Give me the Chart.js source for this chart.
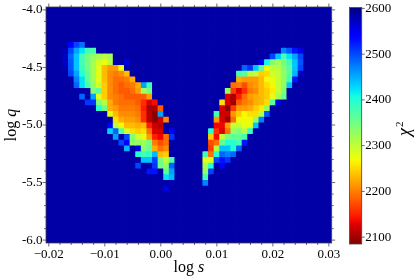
<!DOCTYPE html>
<html>
<head>
<meta charset="utf-8">
<style>
body { margin: 0; background: #fff; }
canvas { position: absolute; top: 0; }
</style>
<script src="https://cdn.jsdelivr.net/npm/chart.js@4"></script>
</head>
<body>
<canvas id="mapChart" width="415" height="280" style="left:0"></canvas>
<canvas id="barChart" width="75" height="280" style="left:340px"></canvas>
<script>
const logS = [-0.020, -0.019, -0.018, -0.017, -0.016, -0.015, -0.014, -0.013, -0.012, -0.011,
    -0.010, -0.009, -0.008, -0.007, -0.006, -0.005, -0.004, -0.003, -0.002, -0.001,
    0.000, 0.001, 0.002, 0.003, 0.004, 0.005, 0.006, 0.007, 0.008, 0.009,
    0.010, 0.011, 0.012, 0.013, 0.014, 0.015, 0.016, 0.017, 0.018, 0.019,
    0.020, 0.021, 0.022, 0.023, 0.024, 0.025, 0.026, 0.027, 0.028, 0.029, 0.030];
const logQ = [-4.00, -4.05, -4.10, -4.15, -4.20, -4.25, -4.30, -4.35, -4.40, -4.45,
    -4.50, -4.55, -4.60, -4.65, -4.70, -4.75, -4.80, -4.85, -4.90, -4.95,
    -5.00, -5.05, -5.10, -5.15, -5.20, -5.25, -5.30, -5.35, -5.40, -5.45,
    -5.50, -5.55, -5.60, -5.65, -5.70, -5.75, -5.80, -5.85, -5.90, -5.95, -6.00];
const xTicks = [-0.02, -0.01, 0, 0.01, 0.02, 0.03];
const yTicks = [-4, -4.5, -5, -5.5, -6];
const barTicks = [2100, 2200, 2300, 2400, 2500, 2600];

// chi2 outside the two wings, and holes inside them
const B = 2585;
const chiMin = 2085;
const chiMax = 2602;

// left wing, rows of logQ from index 6 on, each row starts at column leftStart
const leftStart = [4, 3, 3, 3, 3, 4, 5, 5, 8, 6, 7, 9, 11, 12, 11, 11, 12, 13, 14, 16, 17, 16, 18, 21, 22, 21];
const leftChi2 = [
    [2545, 2503, 2480],
    [2578, 2503, 2454, 2422, 2378, 2375],
    [2570, 2486, 2438, 2378, 2349, 2329, 2318, 2308, 2318],
    [2570, 2495, 2438, 2378, 2349, 2318, 2290, 2269, 2308, B, B, 2559],
    [2578, 2495, 2438, 2385, 2349, 2318, 2279, 2234, 2217, 2217, 2279],
    [2503, 2454, 2398, 2359, 2318, 2279, 2234, 2208, 2199, 2208, 2234],
    [2471, 2422, 2359, 2318, 2279, 2234, 2208, 2192, 2192, 2199, 2226],
    [2486, 2422, 2378, 2329, 2290, 2243, 2208, 2192, 2181, 2192, 2199, 2226, 2454, 2378],
    [2339, 2359, 2243, 2208, 2192, 2181, 2181, 2192, 2217, 2318, 2349],
    [2486, B, 2454, 2279, 2243, 2208, 2199, 2192, 2181, 2181, 2181, 2181, 2217],
    [2511, 2511, 2339, 2308, 2226, 2199, 2192, 2192, 2192, 2181, 2156, 2126, 2138],
    [2398, 2349, 2226, 2217, 2199, 2199, 2199, 2192, 2147, 2105, 2105, 2181],
    [2279, 2234, 2208, 2208, 2208, 2199, 2156, 2111, 2090, 2454],
    [2253, 2226, 2217, 2217, 2208, 2156, 2111, 2090, 2119, 2208],
    [2540, 2308, 2269, 2234, 2234, 2226, 2234, 2147, 2119, 2111],
    [2430, 2486, 2367, 2290, 2253, 2243, 2253, 2192, 2126, 2119, B, 2540],
    [2454, B, 2503, 2339, 2290, 2279, 2217, 2147, 2133, 2192, 2511],
    [2503, 2540, 2329, 2329, 2318, 2349, 2199, 2173, 2192],
    [2445, B, 2559, 2339, 2359, 2226, 2192, 2208],
    [2398, 2378, 2390, 2445, 2234, 2243],
    [2438, 2438, 2503, 2349, 2299, 2378],
    [2503, B, B, 2511, 2349, 2329, 2486],
    [2528, 2528, B, 2359, 2454],
    [2422, 2445],
    [2578],
    [2559]
];

// right wing, rows of logQ from index 7 on
const rightStart = [42, 40, 38, 35, 34, 34, 33, 32, 32, 31, 31, 30, 30, 30, 29, 29, 29, 29, 28, 28, 28, 28, 28, 28];
const rightChi2 = [
    [2471, 2495, 2530, 2559],
    [2503, 2438, 2378, 2422, 2454, 2503],
    [2540, 2410, 2339, 2318, 2349, 2378, 2438, 2495],
    [2486, 2511, 2438, 2367, 2269, 2299, 2308, 2339, 2367, 2438, 2503],
    [2378, 2367, 2308, 2299, 2243, 2250, 2290, 2299, 2329, 2367, 2445, 2570],
    [2226, 2217, 2217, 2217, 2234, 2269, 2279, 2299, 2329, 2378, 2528],
    [2192, 2199, 2173, 2208, 2217, 2234, 2253, 2269, 2299, 2329, 2438],
    [2329, 2164, 2126, 2156, 2199, 2208, 2234, 2243, 2260, 2299, 2339],
    [2126, 2105, 2147, 2192, 2217, 2226, 2234, 2243, 2279, 2318, 2359],
    [2253, 2126, 2098, 2181, 2199, 2208, 2226, 2234, 2253, 2367, 2559],
    [2126, 2090, 2164, 2217, 2217, 2226, 2243, 2260, 2329],
    [2378, 2119, 2119, 2217, 2243, 2269, 2253, 2253, 2308, 2495],
    [2217, 2126, 2098, 2192, 2269, 2269, 2269, 2329, 2471],
    [2135, 2135, 2217, 2299, 2299, 2279, 2279, 2438],
    [2398, 2156, 2126, 2192, 2329, 2339, 2308, 2390],
    [2243, 2138, 2299, 2349, 2359, 2359, 2378],
    [2173, 2192, 2359, 2398, 2398, 2378, 2528],
    [2164, 2308, 2438, 2438, 2398, 2486],
    [2378, 2192, 2398, 2486, 2471, 2486],
    [2279, 2279, 2503, 2528, 2511],
    [2318, 2398, B, 2540],
    [2329, 2503],
    [2378],
    [2471]
];

const FONT = '"Liberation Serif", serif';
const TICK_COLOR = '#444';

function piece(t, stops) {
    if (t <= stops[0][0]) return stops[0][1];
    for (let i = 1; i < stops.length; i++) {
        if (t <= stops[i][0]) {
            const [a, av] = stops[i - 1];
            const [b, bv] = stops[i];
            return av + (bv - av) * (t - a) / (b - a);
        }
    }
    return stops[stops.length - 1][1];
}

function jet(t) {
    const r = piece(t, [[0.35, 0], [0.66, 1], [0.89, 1], [1, 0.5]]);
    const g = piece(t, [[0.125, 0], [0.375, 1], [0.64, 1], [0.91, 0]]);
    const b = piece(t, [[0, 0.5], [0.11, 1], [0.34, 1], [0.65, 0]]);
    return `rgb(${Math.round(r * 255)},${Math.round(g * 255)},${Math.round(b * 255)})`;
}

// high chi2 is blue, the colour bar runs jet upside down
function chiColor(v) {
    return jet((chiMax - v) / (chiMax - chiMin));
}

function buildRows() {
    const rows = logQ.map(() => logS.map(() => B));
    leftChi2.forEach((vals, r) => vals.forEach((v, c) => { rows[r + 6][leftStart[r] + c] = v; }));
    rightChi2.forEach((vals, r) => vals.forEach((v, c) => { rows[r + 7][rightStart[r] + c] = v; }));
    return rows;
}

function buildDatasets() {
    return buildRows().map((row, j) => ({
        data: row.map((v, i) => ({ x: logS[i], y: [logQ[j] - 0.025, logQ[j] + 0.025] })),
        backgroundColor: row.map(chiColor),
        borderWidth: 0,
        inflateAmount: 0.4,
        barPercentage: 1,
        categoryPercentage: 1,
        grouped: false
    }));
}

function line(ctx, x1, y1, x2, y2) {
    ctx.beginPath();
    ctx.moveTo(x1, y1);
    ctx.lineTo(x2, y2);
    ctx.stroke();
}

// the first and last tick labels must not push the plot area in
function noLabelMargin(scale) {
    scale.paddingTop = 0;
    scale.paddingBottom = 0;
    scale.paddingLeft = 0;
    scale.paddingRight = 0;
}

// outward ticks on all four sides, minor ones included, and the frame
const frameTicks = {
    id: 'frameTicks',
    afterDraw(chart) {
        const { ctx, chartArea: a, scales } = chart;
        ctx.save();
        ctx.strokeStyle = TICK_COLOR;
        ctx.lineWidth = 0.8;
        ctx.strokeRect(a.left, a.top, a.right - a.left, a.bottom - a.top);
        for (let k = -10; k <= 15; k++) {
            const x = scales.x.getPixelForValue(k * 0.002);
            const len = k % 5 === 0 ? 3.5 : 2;
            line(ctx, x, a.bottom, x, a.bottom + len);
            line(ctx, x, a.top, x, a.top - len);
        }
        for (let k = 40; k <= 60; k++) {
            const y = scales.y.getPixelForValue(-k * 0.1);
            const len = k % 5 === 0 ? 3.5 : 2;
            line(ctx, a.left, y, a.left - len, y);
            line(ctx, a.right, y, a.right + len, y);
        }
        ctx.restore();
    }
};

// axis names mix upright and italic, which a scale title cannot do
const axisNames = {
    id: 'axisNames',
    afterDraw(chart) {
        const { ctx, chartArea: a } = chart;
        const upright = `16px ${FONT}`;
        const italic = `italic 16px ${FONT}`;
        const mixed = (name, letter, cx, cy, angle) => {
            ctx.save();
            ctx.translate(cx, cy);
            ctx.rotate(angle);
            ctx.fillStyle = '#000';
            ctx.textBaseline = 'alphabetic';
            ctx.font = upright;
            const w1 = ctx.measureText(name).width;
            ctx.font = italic;
            const w2 = ctx.measureText(letter).width;
            ctx.font = upright;
            ctx.fillText(name, -(w1 + w2) / 2, 0);
            ctx.font = italic;
            ctx.fillText(letter, -(w1 + w2) / 2 + w1, 0);
            ctx.restore();
        };
        mixed('log ', 's', (a.left + a.right) / 2, 272, 0);
        mixed('log ', 'q', 16, (a.top + a.bottom) / 2, -Math.PI / 2);
    }
};

new Chart(document.getElementById('mapChart'), {
    type: 'bar',
    data: { datasets: buildDatasets() },
    options: {
        responsive: false,
        animation: false,
        layout: { padding: { left: 0, right: 83.3, top: 7, bottom: 0 } },
        plugins: { legend: { display: false }, tooltip: { enabled: false } },
        scales: {
            x: {
                type: 'linear',
                offset: false,
                min: -0.0205,
                max: 0.0305,
                grid: { display: false, drawTicks: false },
                border: { display: false },
                afterFit(scale) { scale.height = 37; noLabelMargin(scale); },
                afterBuildTicks(scale) { scale.ticks = xTicks.map(value => ({ value })); },
                ticks: {
                    autoSkip: false,
                    maxRotation: 0,
                    padding: 4,
                    color: '#000',
                    font: { family: FONT, size: 13 },
                    callback: v => (v < 0 ? '\u2212' : '') + Math.abs(v).toFixed(2)
                }
            },
            y: {
                min: -6.025,
                max: -3.975,
                grid: { display: false, drawTicks: false },
                border: { display: false },
                afterFit(scale) { scale.width = 46; noLabelMargin(scale); },
                afterBuildTicks(scale) { scale.ticks = yTicks.map(value => ({ value })); },
                ticks: {
                    autoSkip: false,
                    padding: 3.5,
                    color: '#000',
                    font: { family: FONT, size: 13 },
                    callback: v => v.toFixed(1)
                }
            }
        }
    },
    plugins: [frameTicks, axisNames]
});

const chiName = {
    id: 'chiName',
    afterDraw(chart) {
        const { ctx } = chart;
        ctx.save();
        ctx.translate(70, 128);
        ctx.rotate(-Math.PI / 2);
        ctx.fillStyle = '#000';
        ctx.font = `italic 18px ${FONT}`;
        ctx.fillText('\u03c7', -8, 0);
        ctx.font = `11px ${FONT}`;
        ctx.fillText('2', 1, -7);
        ctx.restore();
    }
};

const barTickMarks = {
    id: 'barTickMarks',
    afterDraw(chart) {
        const { ctx, chartArea: a, scales } = chart;
        ctx.save();
        ctx.strokeStyle = TICK_COLOR;
        ctx.lineWidth = 0.8;
        ctx.strokeRect(a.left, a.top, a.right - a.left, a.bottom - a.top);
        barTicks.forEach(v => {
            const y = scales.y.getPixelForValue(v);
            line(ctx, a.right, y, a.right + 3, y);
        });
        ctx.restore();
    }
};

new Chart(document.getElementById('barChart'), {
    type: 'bar',
    data: {
        labels: ['chi2'],
        datasets: [{
            data: [[chiMin, chiMax]],
            barPercentage: 1,
            categoryPercentage: 1,
            borderWidth: 0,
            backgroundColor(c) {
                const a = c.chart.chartArea;
                if (!a) return '#000080';
                const grad = c.chart.ctx.createLinearGradient(0, a.top, 0, a.bottom);
                for (let k = 0; k <= 50; k++) grad.addColorStop(k / 50, jet(k / 50));
                return grad;
            }
        }]
    },
    options: {
        responsive: false,
        animation: false,
        layout: { padding: { left: 9.5, top: 7.5, bottom: 36, right: 0 } },
        plugins: { legend: { display: false }, tooltip: { enabled: false } },
        scales: {
            x: { display: false },
            y: {
                position: 'right',
                min: chiMin,
                max: chiMax,
                grid: { display: false, drawTicks: false },
                border: { display: false },
                afterFit(scale) { scale.width = 53.3; noLabelMargin(scale); },
                afterBuildTicks(scale) { scale.ticks = barTicks.map(value => ({ value })); },
                ticks: {
                    autoSkip: false,
                    padding: 3.5,
                    color: '#000',
                    font: { family: FONT, size: 13 },
                    callback: v => String(v)
                }
            }
        }
    },
    plugins: [barTickMarks, chiName]
});
</script>
</body>
</html>
